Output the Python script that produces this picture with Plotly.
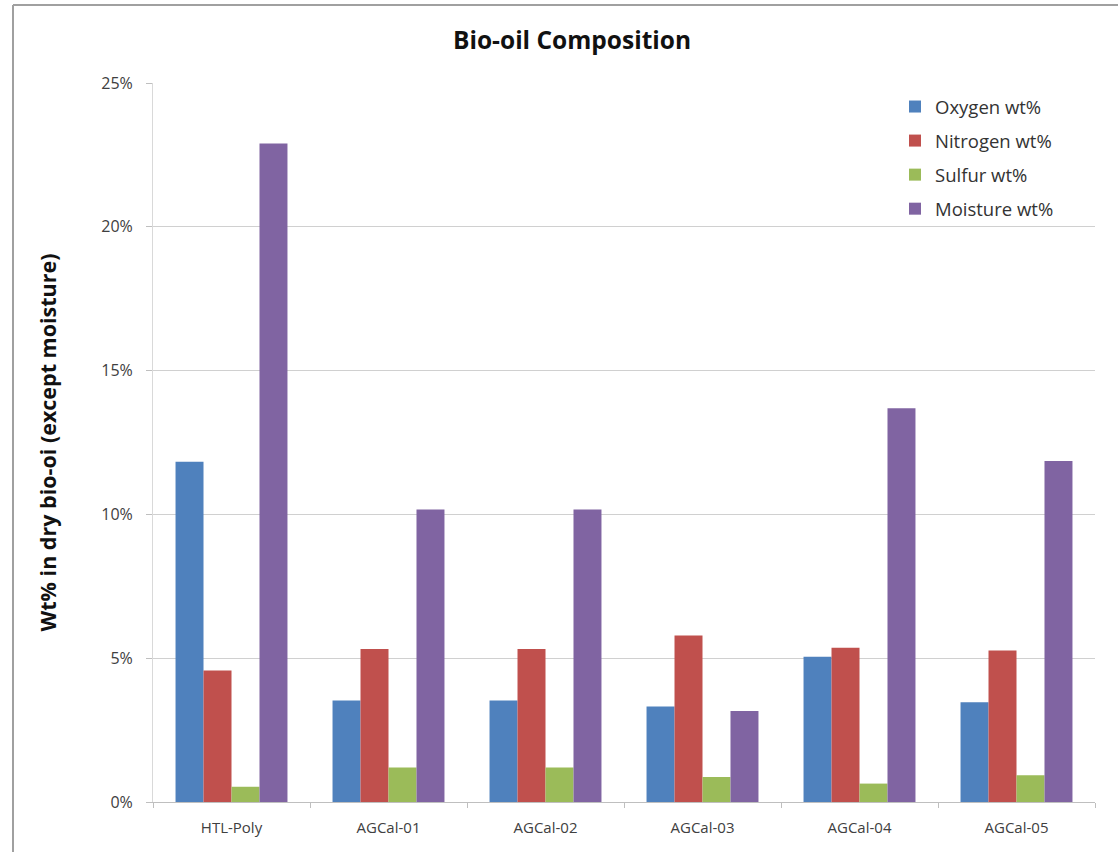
import plotly.graph_objects as go

# Samples along the category axis
samples = ["HTL-Poly", "AGCal-01", "AGCal-02", "AGCal-03", "AGCal-04", "AGCal-05"]

# Composition of each bio-oil (fraction by weight)
oxygen = [0.1183, 0.0353, 0.0353, 0.0332, 0.0505, 0.0347]
nitrogen = [0.0457, 0.0532, 0.0532, 0.0579, 0.0536, 0.0527]
sulfur = [0.0053, 0.0120, 0.0120, 0.0087, 0.0064, 0.0093]
moisture = [0.2290, 0.1017, 0.1017, 0.0316, 0.1369, 0.1186]

series_names = ["Oxygen wt%", "Nitrogen wt%", "Sulfur wt%", "Moisture wt%"]
series_values = [oxygen, nitrogen, sulfur, moisture]
series_colors = ["#4F81BD", "#C0504D", "#9BBB59", "#8064A2"]

y_ticks = [0, 0.05, 0.10, 0.15, 0.20, 0.25]

FONT = "'Open Sans', Lato, sans-serif"

fig = go.Figure()
for name, vals, color in zip(series_names, series_values, series_colors):
    fig.add_trace(go.Bar(
        x=samples,
        y=vals,
        name=name,
        legendgroup=name,
        marker=dict(color=color, line=dict(width=0)),
        hovertemplate="%{x}: %{y:.1%}<extra>" + name + "</extra>",
    ))

# Plot area occupies x 153..1095, y 83..802 in pixels
W, H = 1118, 852
L, R, T, B = 153, 23, 83, 50
pw, ph = W - L - R, H - T - B


def px_x(x):
    return (x - L) / pw


def px_y(y):
    return (H - B - y) / ph


# Outer chart frame (top and left edges)
frame = dict(color="#A0A0A0", width=2)
shapes = [
    dict(type="line", xref="paper", yref="paper",
         x0=px_x(13), x1=px_x(W + 5), y0=px_y(5), y1=px_y(5), line=frame),
    dict(type="line", xref="paper", yref="paper",
         x0=px_x(13), x1=px_x(13), y0=px_y(5), y1=px_y(H + 5), line=frame),
]

# Vertical axis title
annotations = [
    dict(
        text="<b>Wt% in dry bio-oi (except moisture)</b>",
        xref="paper", yref="paper",
        x=px_x(47), y=0.5, xanchor="center", yanchor="middle",
        textangle=-90, showarrow=False,
        font=dict(family=FONT, size=21.5, color="#111111"),
    )
]

fig.update_layout(
    width=W,
    height=H,
    margin=dict(l=L, r=R, t=T, b=B),
    paper_bgcolor="white",
    plot_bgcolor="white",
    barmode="group",
    bargap=0.287,
    bargroupgap=0,
    font=dict(family=FONT, color="#404040"),
    title=dict(
        text="<b>Bio-oil Composition</b>",
        x=572 / W, xref="container", xanchor="center",
        y=1 - 40 / H, yref="container", yanchor="middle",
        font=dict(family=FONT, size=24.5, color="#111111"),
    ),
    legend=dict(
        x=px_x(895), y=px_y(88), xanchor="left", yanchor="top",
        font=dict(family=FONT, size=18.5, color="#333333"),
        tracegroupgap=7,
        bgcolor="rgba(0,0,0,0)",
        itemwidth=30,
    ),
    shapes=shapes,
    annotations=annotations,
    showlegend=True,
)

fig.update_xaxes(
    showline=True, linecolor="#BFBFBF", linewidth=1,
    ticks="outside", tickson="boundaries", ticklen=5, tickcolor="#BFBFBF",
    tickfont=dict(family=FONT, size=15, color="#404040"),
    ticklabelstandoff=12,
    showgrid=False,
)

fig.update_yaxes(
    range=[0, 0.25],
    tickvals=y_ticks,
    tickformat=".0%",
    showline=True, linecolor="#D9D9D9", linewidth=1,
    ticks="outside", ticklen=6, tickcolor="#BFBFBF",
    tickfont=dict(family=FONT, size=16, color="#404040"),
    ticklabelstandoff=10,
    showgrid=True, gridcolor="#D0D0D0", gridwidth=1,
    zeroline=False,
)

fig.write_html("out.html")
